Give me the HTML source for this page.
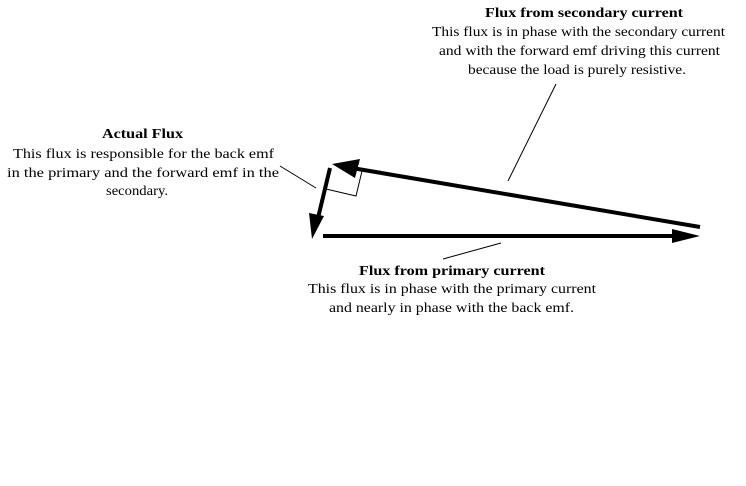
<!DOCTYPE html>
<html><head><style>html,body{margin:0;padding:0;background:#fff;}svg{display:block}</style></head>
<body>
<svg width="746" height="486" viewBox="0 0 746 486" xmlns="http://www.w3.org/2000/svg" font-family="Liberation Serif, serif" font-size="14" fill="#000">
<text x="102" y="138" font-weight="bold" textLength="81" lengthAdjust="spacingAndGlyphs">Actual Flux</text>
<text x="13" y="158" textLength="261" lengthAdjust="spacingAndGlyphs">This flux is responsible for the back emf</text>
<text x="7" y="177" textLength="272" lengthAdjust="spacingAndGlyphs">in the primary and the forward emf in the</text>
<text x="106" y="195" textLength="62" lengthAdjust="spacingAndGlyphs">secondary.</text>
<text x="485" y="17" font-weight="bold" textLength="198" lengthAdjust="spacingAndGlyphs">Flux from secondary current</text>
<text x="432" y="36" textLength="293" lengthAdjust="spacingAndGlyphs">This flux is in phase with the secondary current</text>
<text x="439" y="55" textLength="281" lengthAdjust="spacingAndGlyphs">and with the forward emf driving this current</text>
<text x="468" y="74" textLength="218" lengthAdjust="spacingAndGlyphs">because the load is purely resistive.</text>
<text x="359" y="275" font-weight="bold" textLength="186" lengthAdjust="spacingAndGlyphs">Flux from primary current</text>
<text x="308" y="293" textLength="288" lengthAdjust="spacingAndGlyphs">This flux is in phase with the primary current</text>
<text x="329" y="312" textLength="245" lengthAdjust="spacingAndGlyphs">and nearly in phase with the back emf.</text>
<g stroke="#000" fill="none">
<line x1="280" y1="166" x2="316" y2="188" stroke-width="1"/>
<line x1="556" y1="84" x2="508" y2="181" stroke-width="1"/>
<line x1="443" y1="259" x2="501" y2="243" stroke-width="1"/>
<polyline points="326,189 356,196 362,171" stroke-width="1"/>
<line x1="700" y1="227" x2="352" y2="168" stroke-width="4"/>
<line x1="323" y1="236" x2="675" y2="236" stroke-width="4"/>
<line x1="330" y1="168" x2="318" y2="218" stroke-width="4"/>
</g>
<polygon points="332,164 360,159 355,178" fill="#000"/>
<polygon points="700,236 672,229 672,243" fill="#000"/>
<polygon points="312,239 309,213 324,216" fill="#000"/>
</svg>
</body></html>
